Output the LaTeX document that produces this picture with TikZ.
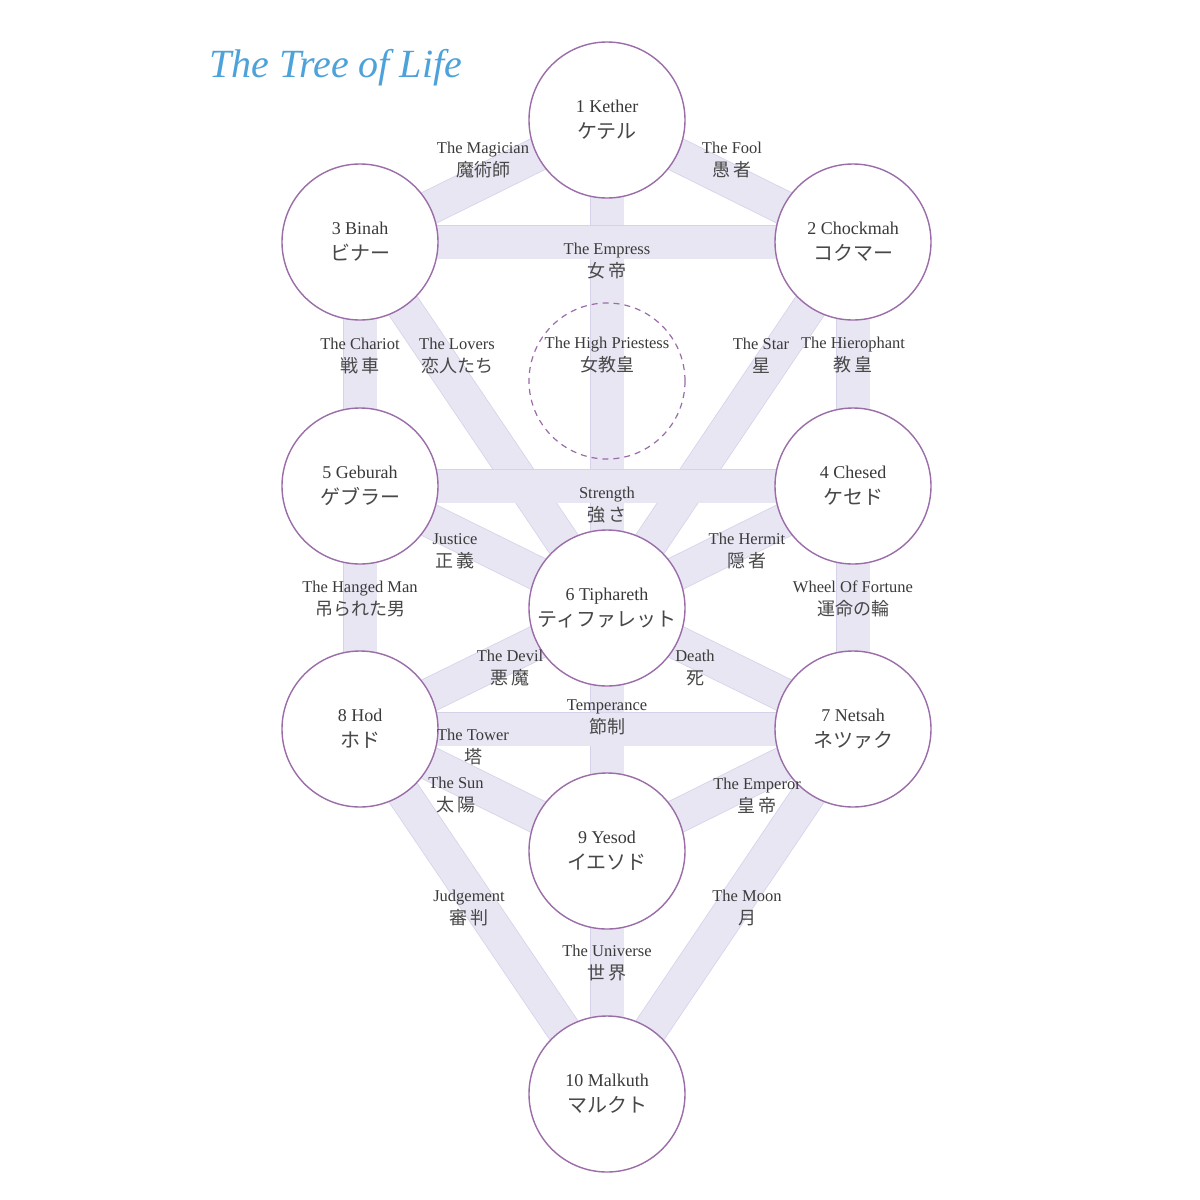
\documentclass[tikz,border=0pt]{standalone}
\usepackage{fontspec}
\setmainfont{Liberation Serif}
\newfontfamily\jpfont{Noto Sans CJK JP}
\usetikzlibrary{backgrounds}
\definecolor{bandfill}{HTML}{E8E6F3}
\definecolor{bandedge}{HTML}{D6D2EA}
\definecolor{ring}{HTML}{9A6CA8}
\definecolor{txt}{HTML}{3A3A3A}
\definecolor{jtxt}{HTML}{484848}
\definecolor{titleblue}{HTML}{4DA2DA}
\newcommand\jc[1]{{\jpfont\color{jtxt}\fontsize{20bp}{26bp}\selectfont #1}}
\newcommand\jq[1]{{\jpfont\color{jtxt}\fontsize{18bp}{23bp}\selectfont #1}}
\newcommand\jsp{\hspace{0.15em}}
\begin{document}
\begin{tikzpicture}[x=1bp,y=-1bp,
 sephira/.style={circle, draw=ring, line width=1.4bp, fill=white, minimum size=156bp, inner sep=0pt, align=center, text=txt, font=\fontsize{18bp}{26bp}\selectfont},
 hidden/.style={circle, draw=ring, line width=1.2bp, dash pattern=on 6bp off 5bp, minimum size=156bp, inner sep=0pt},
 pathlabel/.style={align=center, text=txt, inner sep=0pt, font=\fontsize{16.5bp}{23bp}\selectfont},
 band/.style={draw=bandedge, line width=0.8bp, double=bandfill, double distance=33bp},
]
\useasboundingbox (0,0) rectangle (1200,1200);

\node[anchor=base west, text=titleblue, inner sep=0pt, font=\fontsize{40bp}{42bp}\selectfont\itshape] (title) at (209,77) {The Tree of Life};

% Sephiroth
\node[sephira] (kether)    at (607,120)  {1 Kether\\\jc{ケテル}};
\node[sephira] (chockmah)  at (853,242)  {2 Chockmah\\\jc{コクマー}};
\node[sephira] (binah)     at (360,242)  {3 Binah\\\jc{ビナー}};
\node[hidden]  (daath)     at (607,381)  {};
\node[sephira] (chesed)    at (853,486)  {4 Chesed\\\jc{ケセド}};
\node[sephira] (geburah)   at (360,486)  {5 Geburah\\\jc{ゲブラー}};
\node[sephira] (tiphareth) at (607,608)  {6 Tiphareth\\\jc{ティファレット}};
\node[sephira] (netsah)    at (853,729)  {7 Netsah\\\jc{ネツァク}};
\node[sephira] (hod)       at (360,729)  {8 Hod\\\jc{ホド}};
\node[sephira] (yesod)     at (607,851)  {9 Yesod\\\jc{イエソド}};
\node[sephira] (malkuth)   at (607,1094) {10 Malkuth\\\jc{マルクト}};

% Paths
\begin{scope}[on background layer]
\fill[white] (0,0) rectangle (1200,1200);
\draw[band] (kether.center) -- (tiphareth.center);
\draw[band] (binah.center) -- (tiphareth.center);
\draw[band] (chockmah.center) -- (tiphareth.center);
\draw[band] (kether.center) -- (binah.center);
\draw[band] (kether.center) -- (chockmah.center);
\draw[band] (binah.center) -- (chockmah.center);
\draw[band] (binah.center) -- (geburah.center);
\draw[band] (chockmah.center) -- (chesed.center);
\draw[band] (geburah.center) -- (chesed.center);
\draw[band] (geburah.center) -- (tiphareth.center);
\draw[band] (chesed.center) -- (tiphareth.center);
\draw[band] (geburah.center) -- (hod.center);
\draw[band] (chesed.center) -- (netsah.center);
\draw[band] (tiphareth.center) -- (hod.center);
\draw[band] (tiphareth.center) -- (netsah.center);
\draw[band] (tiphareth.center) -- (yesod.center);
\draw[band] (hod.center) -- (malkuth.center);
\draw[band] (netsah.center) -- (malkuth.center);
\draw[band] (hod.center) -- (netsah.center);
\draw[band] (hod.center) -- (yesod.center);
\draw[band] (netsah.center) -- (yesod.center);
\draw[band] (yesod.center) -- (malkuth.center);
\end{scope}

% Path labels
\node[pathlabel] (lmagician) at (483,160) {The Magician\\\jq{魔術師}};
\node[pathlabel] (lfool)     at (732,160) {The Fool\\\jq{愚\jsp 者}};
\node[pathlabel] (lempress)  at (607,261) {The Empress\\\jq{女\jsp 帝}};
\node[pathlabel] (lchariot)  at (360,356) {The Chariot\\\jq{戦\jsp 車}};
\node[pathlabel] (llovers)   at (457,356) {The Lovers\\\jq{恋人たち}};
\node[pathlabel] (lpriestess) at (607,355) {The High Priestess\\\jq{女教皇}};
\node[pathlabel] (lstar)     at (761,356) {The Star\\\jq{星}};
\node[pathlabel] (lhiero)    at (853,355) {The Hierophant\\\jq{教\jsp 皇}};
\node[pathlabel] (lstrength) at (607,505) {Strength\\\jq{強\jsp さ}};
\node[pathlabel] (ljustice)  at (455,551) {Justice\\\jq{正\jsp 義}};
\node[pathlabel] (lhermit)   at (747,551) {The Hermit\\\jq{隠\jsp 者}};
\node[pathlabel] (lhanged)   at (360,599) {The Hanged Man\\\jq{吊られた男}};
\node[pathlabel] (lwheel)    at (853,599) {Wheel Of Fortune\\\jq{運命の輪}};
\node[pathlabel] (ldevil)    at (510,668) {The Devil\\\jq{悪\jsp 魔}};
\node[pathlabel] (ldeath)    at (695,668) {Death\\\jq{死}};
\node[pathlabel] (ltemper)   at (607,717) {Temperance\\\jq{節制}};
\node[pathlabel] (ltower)    at (473,747) {The Tower\\\jq{塔}};
\node[pathlabel] (lsun)      at (456,795) {The Sun\\\jq{太\jsp 陽}};
\node[pathlabel] (lemperor)  at (757,796) {The Emperor\\\jq{皇\jsp 帝}};
\node[pathlabel] (ljudge)    at (469,908) {Judgement\\\jq{審\jsp 判}};
\node[pathlabel] (lmoon)     at (747,908) {The Moon\\\jq{月}};
\node[pathlabel] (luniverse) at (607,963) {The Universe\\\jq{世\jsp 界}};
\end{tikzpicture}
\end{document}
